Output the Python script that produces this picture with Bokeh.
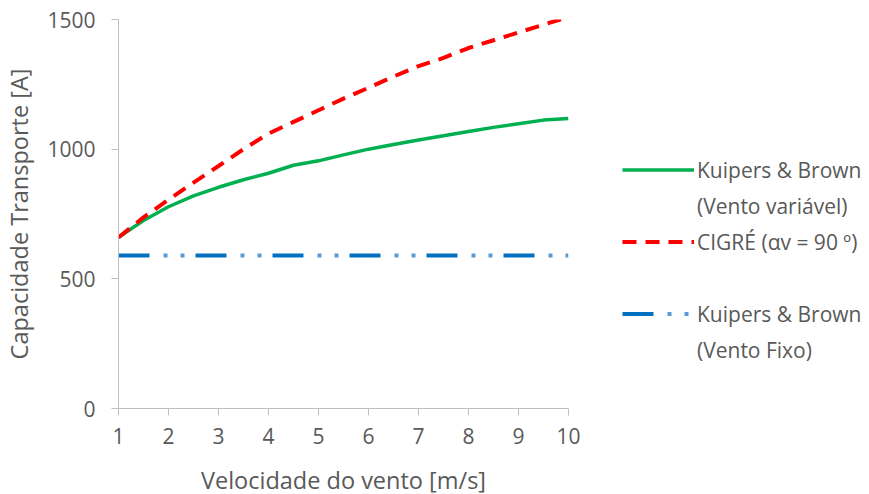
from bokeh.plotting import figure
from bokeh.models import Legend, LegendItem, FixedTicker, Range1d
from bokeh.embed import file_html
from bokeh.resources import INLINE

wind = [1, 1.5, 2, 2.5, 3, 3.5, 4, 4.5, 5, 5.5, 6, 6.5, 7, 7.5, 8, 8.5, 9, 9.5, 10]
kb_variable = [660, 725, 778, 820, 853, 882, 907, 938, 955, 978, 1000, 1018, 1035, 1052, 1068, 1084, 1098, 1112, 1118]
cigre = [660, 737, 805, 871, 935, 1000, 1060, 1105, 1150, 1195, 1237, 1280, 1320, 1352, 1390, 1420, 1450, 1480, 1510]
kb_fixed = [590] * len(wind)

x_ticks = [1, 2, 3, 4, 5, 6, 7, 8, 9, 10]
y_ticks = [0, 500, 1000, 1500]

label_kb_var = ["Kuipers & Brown", "(Vento variável)"]
label_cigre = "CIGRÉ (αv = 90 º)"
label_kb_fix = ["Kuipers & Brown", "(Vento Fixo)"]

FONT = "Open Sans"
GREY = "#595959"
AXIS = "#BFBFBF"

p = figure(frame_width=450, frame_height=389,
           output_backend="svg", toolbar_location=None,
           x_range=Range1d(1, 10), y_range=Range1d(0, 1500),
           min_border_left=110, min_border_top=19, min_border_bottom=10, min_border_right=10)
p.outline_line_color = None
p.xgrid.visible = False
p.ygrid.visible = False

r_green = p.line(wind, kb_variable, line_color="#00B050", line_width=3.5)
r_red = p.line(wind, cigre, line_color="#FF0000", line_width=4, line_dash="14 9")
r_blue_dash = p.line(wind, kb_fixed, line_color="#0070C0", line_width=4, line_dash="31 46",
                     line_cap="butt")
r_blue_dot = p.line(wind, kb_fixed, line_color="#5B9BD5", line_width=4, line_dash="0 45 4 13 4 11",
                    line_cap="butt")

for ax in (p.xaxis[0], p.yaxis[0]):
    ax.axis_line_color = AXIS
    ax.major_tick_line_color = AXIS
    ax.minor_tick_line_color = None
    ax.major_tick_in = 0
    ax.major_tick_out = 7
    ax.major_label_text_color = GREY
    ax.major_label_text_font = FONT
    ax.major_label_text_font_size = "21px"
    ax.axis_label_text_color = GREY
    ax.axis_label_text_font = FONT
    ax.axis_label_text_font_size = "23.5px"
    ax.axis_label_text_font_style = "normal"

p.xaxis.ticker = FixedTicker(ticks=x_ticks)
p.yaxis.ticker = FixedTicker(ticks=y_ticks)
p.xaxis.axis_label = "Velocidade do vento [m/s]"
p.yaxis.axis_label = "Capacidade Transporte [A]"
p.xaxis.major_label_standoff = 12
p.yaxis.major_label_standoff = 16
p.xaxis.axis_label_standoff = 17
p.yaxis.axis_label_standoff = 9

legend = Legend(items=[
    LegendItem(label=label_kb_var[0], renderers=[r_green]),
    LegendItem(label=label_kb_var[1], renderers=[]),
    LegendItem(label=label_cigre, renderers=[r_red]),
    LegendItem(label=" ", renderers=[]),
    LegendItem(label=label_kb_fix[0], renderers=[r_blue_dash, r_blue_dot]),
    LegendItem(label=label_kb_fix[1], renderers=[]),
], location=(54, 44))
legend.border_line_color = None
legend.background_fill_alpha = 0
legend.label_text_font = FONT
legend.label_text_font_size = "21px"
legend.label_text_color = GREY
legend.label_text_baseline = "middle"
legend.glyph_width = 72
legend.glyph_height = 29
legend.label_height = 29
legend.label_standoff = 3
legend.spacing = 7
legend.margin = 28
legend.padding = 0
p.add_layout(legend, "right")

open("out.html", "w").write(file_html(p, INLINE))
